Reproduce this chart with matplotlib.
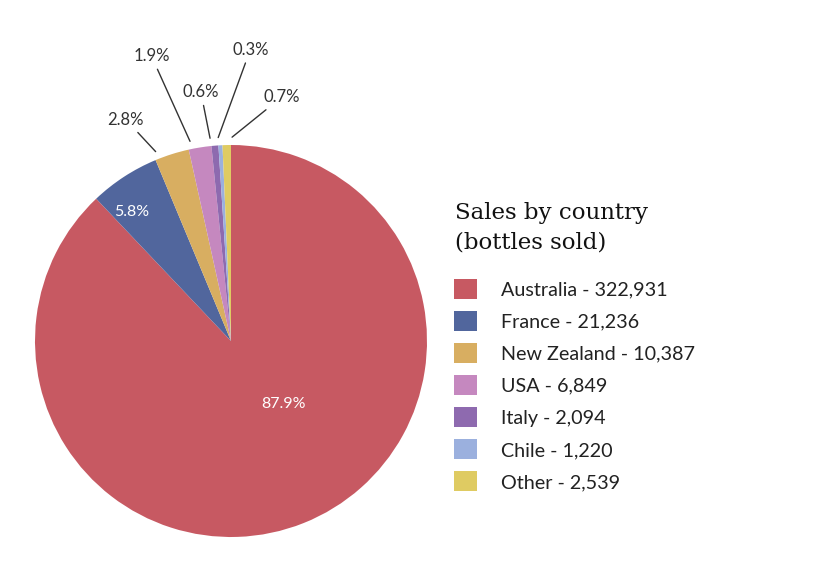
import numpy as np
import matplotlib
matplotlib.use("Agg")
import matplotlib.pyplot as plt

countries = ["Australia", "France", "New Zealand", "USA", "Italy", "Chile", "Other"]
bottles = [322931, 21236, 10387, 6849, 2094, 1220, 2539]
colors = ["#C75962", "#51669D", "#D8AE61", "#C588BF", "#8E6AAF", "#9BB0DE", "#DFCB62"]

# label placement (radius in pie units, angle in degrees) - hand tuned
label_pos = [(0.42, -50.4), (0.83, 127.5), (1.25, 115.4), (1.51, 105.6),
             (1.28, 96.9), (1.49, 86.2), (1.27, 78.3)]
# where the leader line touches the pie (angle in degrees), None = inside label
anchor_ang = [None, None, 111.7, 101.6, 95.9, 93.6, 89.7]

W, H = 813, 577
fig = plt.figure(figsize=(W / 100, H / 100), dpi=100)
fig.patch.set_facecolor("white")

# pie centre at (231, 341) px, radius 196 px
R = 196.0
ax = fig.add_axes([0, 0, 462 / W, 1])
wedges, _ = ax.pie(bottles, colors=colors, startangle=90, counterclock=False,
                   wedgeprops=dict(linewidth=0))
ax.set_xlim(-231 / R, 231 / R)
ax.set_ylim(-(H - 341) / R, 341 / R)
ax.axis("off")

total = sum(bottles)
for val, (r, a), anc in zip(bottles, label_pos, anchor_ang):
    pct = "%.1f%%" % (100 * val / total)
    tx, ty = r * np.cos(np.radians(a)), r * np.sin(np.radians(a))
    if anc is None:
        ax.text(tx, ty, pct, color="white", fontsize=11.5, family="Lato",
                ha="center", va="center")
    else:
        b = np.radians(anc)
        ax.annotate(pct, xy=(1.04 * np.cos(b), 1.04 * np.sin(b)), xytext=(tx, ty),
                    color="#333333", fontsize=12, family="Lato",
                    ha="center", va="center",
                    arrowprops=dict(arrowstyle="-", color="#333333", lw=1.0,
                                    shrinkA=2, shrinkB=0))

# legend title drawn separately so the gap to the entries can be matched
fig.text(455 / W, 1 - 202 / H, "Sales by country\n(bottles sold)",
         family="DejaVu Serif", size=16.5, color="#111111",
         ha="left", va="top", linespacing=1.42)

labels = ["%s - %s" % (c, format(b, ",")) for c, b in zip(countries, bottles)]
leg = fig.legend(wedges, labels, loc="upper left",
                 bbox_to_anchor=(454 / W, 1 - 279 / H),
                 frameon=False, borderpad=0, borderaxespad=0,
                 prop=dict(family="Lato", size=14.2),
                 handlelength=1.17, handleheight=1.17, handletextpad=1.2,
                 labelspacing=0.62)
for t in leg.get_texts():
    t.set_color("#222222")

fig.savefig("out.png", dpi=100, facecolor="white")
